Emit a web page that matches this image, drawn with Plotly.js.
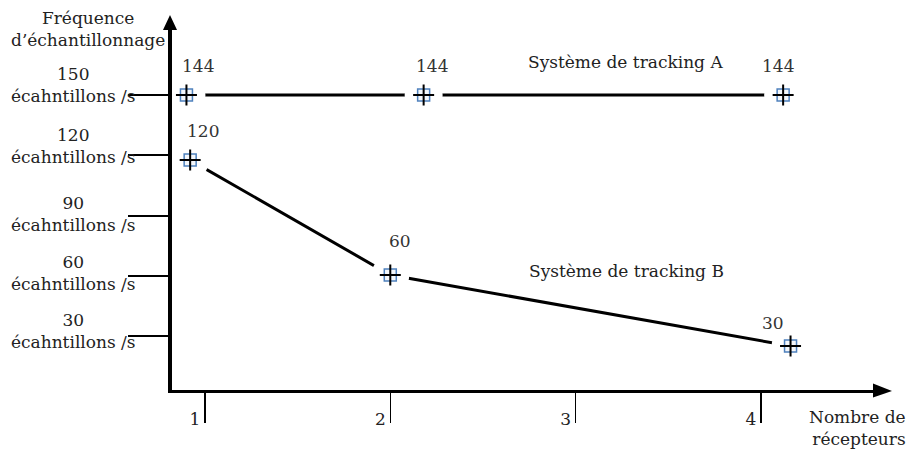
<!DOCTYPE html>
<html>
<head>
<meta charset="utf-8">
<script src="https://cdn.plot.ly/plotly-3.0.1.min.js"></script>
<style>html,body{margin:0;padding:0;background:#fff;}#chart{width:910px;height:450px;}</style>
</head>
<body>
<div id="chart"></div>
<script>
// ---- data ----
const xTicks = [1, 2, 3, 4];
const yTicks = [30, 60, 90, 120, 150];
const yTickUnit = 'écahntillons /s';
const seriesAName = 'Système de tracking A';
const seriesAX = [0.90, 2.18, 4.12];
const seriesAY = [150, 150, 150];
const seriesALabels = ['144', '144', '144'];
const seriesBName = 'Système de tracking B';
const seriesBX = [0.92, 2.00, 4.16];
const seriesBY = [117.6, 60.4, 25];
const seriesBLabels = ['120', '60', '30'];
const yTitle = 'Fréquence<br>d’échantillonnage';
const xTitle = 'Nombre de<br>récepteurs';

// ---- styling ----
const FONT = 'DejaVu Serif, Georgia, serif';
const FS = 17;
const labelOffsetsA = [[12, 29], [8, 29], [-5, 29]];
const labelOffsetsB = [[13, 29], [10, 34], [-18, 23]];
const yLabelShift = [5, 2.5, 1.5, 9.5, 10.5];

const allX = seriesAX.concat(seriesBX);
const allY = seriesAY.concat(seriesBY);

const traces = [
  {x: seriesAX, y: seriesAY, mode: 'lines', line: {color: '#000', width: 3}, hoverinfo: 'skip'},
  {x: seriesBX, y: seriesBY, mode: 'lines', line: {color: '#000', width: 3}, hoverinfo: 'skip'},
  {x: allX, y: allY, mode: 'markers', marker: {symbol: 'circle', size: 38, color: '#fff', line: {width: 0}}, hoverinfo: 'skip'},
  {x: allX, y: allY, mode: 'markers', marker: {symbol: 'square', size: 12, color: '#f4f7fb', line: {width: 1.5, color: '#4f81bd'}}, hoverinfo: 'skip'},
  {x: allX, y: allY, mode: 'markers', marker: {symbol: 'cross-thin-open', size: 15, color: '#000', line: {width: 2, color: '#000'}}, hoverinfo: 'skip'}
];

const annotations = [];
yTicks.forEach((v, i) => {
  annotations.push({xref: 'paper', x: -0.1412, xanchor: 'center', yref: 'y', y: v, yshift: yLabelShift[i],
    text: v + '<br>' + yTickUnit, align: 'center', showarrow: false, font: {family: FONT, size: FS, color: '#222'}});
});
seriesAX.forEach((x, i) => {
  annotations.push({x: x, y: seriesAY[i], xref: 'x', yref: 'y', xshift: labelOffsetsA[i][0], yshift: labelOffsetsA[i][1],
    text: seriesALabels[i], showarrow: false, font: {family: FONT, size: FS, color: '#333'}});
});
seriesBX.forEach((x, i) => {
  annotations.push({x: x, y: seriesBY[i], xref: 'x', yref: 'y', xshift: labelOffsetsB[i][0], yshift: labelOffsetsB[i][1],
    text: seriesBLabels[i], showarrow: false, font: {family: FONT, size: FS, color: '#333'}});
});
annotations.push({xref: 'x', yref: 'y', x: 3.267, y: 166.4, text: seriesAName, showarrow: false, font: {family: FONT, size: FS, color: '#222'}});
annotations.push({xref: 'x', yref: 'y', x: 3.277, y: 62.4, text: seriesBName, showarrow: false, font: {family: FONT, size: FS, color: '#222'}});
annotations.push({xref: 'paper', yref: 'paper', x: -0.1198, y: 1.003, xanchor: 'center', yanchor: 'middle', align: 'center',
  text: yTitle, showarrow: false, font: {family: FONT, size: FS, color: '#222'}});
annotations.push({xref: 'paper', yref: 'paper', x: 1.050, y: -0.1056, xanchor: 'right', yanchor: 'middle', align: 'right',
  text: xTitle, showarrow: false, font: {family: FONT, size: FS, color: '#222'}});

const layout = {
  width: 910, height: 450,
  margin: {l: 172, r: 37, t: 30, b: 60, pad: 0},
  paper_bgcolor: '#fff', plot_bgcolor: '#fff',
  showlegend: false,
  font: {family: FONT, size: FS, color: '#222'},
  xaxis: {
    range: [0.822, 4.605], showgrid: false, zeroline: false,
    showline: true, linewidth: 3, linecolor: '#000',
    ticks: 'outside', ticklen: 30, tickwidth: 1.5, tickcolor: '#000',
    tickvals: xTicks, ticktext: xTicks.map(String),
    ticklabelshift: -10, ticklabelstandoff: -18,
    tickfont: {family: FONT, size: FS, color: '#222'}, fixedrange: true
  },
  yaxis: {
    range: [3.1, 182.4], showgrid: false, zeroline: false,
    showline: true, linewidth: 4, linecolor: '#000',
    ticks: 'outside', ticklen: 40, tickwidth: 2, tickcolor: '#000',
    tickvals: yTicks, showticklabels: false, fixedrange: true
  },
  shapes: [
    {type: 'path', xref: 'paper', yref: 'paper', xsizemode: 'pixel', ysizemode: 'pixel', xanchor: 0, yanchor: 1,
      path: 'M-9,0 L-2,15 L5,0 Z', fillcolor: '#000', line: {width: 0}},
    {type: 'path', xref: 'paper', yref: 'paper', xsizemode: 'pixel', ysizemode: 'pixel', xanchor: 1, yanchor: 0,
      path: 'M0,-7.5 L19,-1 L0,6.5 Z', fillcolor: '#000', line: {width: 0}}
  ],
  annotations: annotations
};

Plotly.newPlot('chart', traces, layout, {displayModeBar: false, staticPlot: true});
</script>
</body>
</html>
